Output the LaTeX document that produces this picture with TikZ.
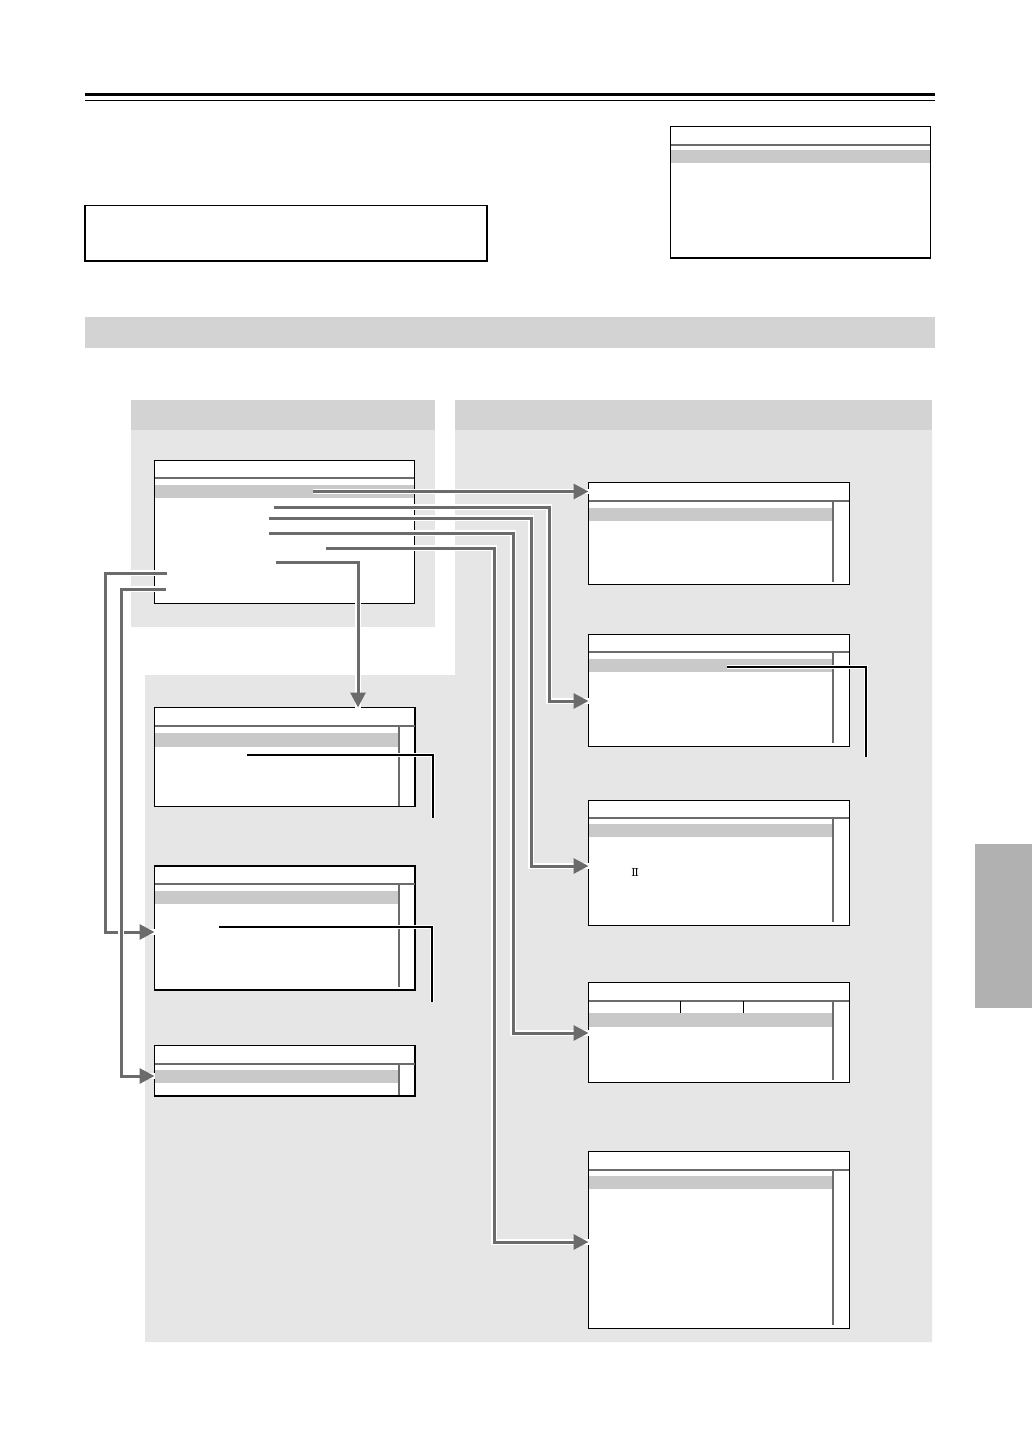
\documentclass[tikz,border=0pt]{standalone}
\usepackage{fontspec}
\usepackage{tikz}
\usetikzlibrary{arrows.meta,fit}
\newfontfamily\romfont{DejaVu Serif}

\definecolor{bandgray}{HTML}{D3D3D3}
\definecolor{panelgray}{HTML}{E6E6E6}
\definecolor{hlgray}{HTML}{C9C9C9}
\definecolor{linegray}{HTML}{6B6B6B}
\definecolor{tabgray}{HTML}{B1B1B1}

\tikzset{
  screen/.style={draw=black, fill=white, line width=1.2pt, inner sep=0pt, outer sep=0pt},
  hl/.style={fill=hlgray},
  sepline/.style={draw=linegray, line width=2pt},
  scroll/.style={draw=linegray, line width=2.2pt},
  conn/.style={draw=linegray, line width=3pt, -{Triangle[length=15pt,width=15pt]},
    preaction={draw=white, line width=5.5pt, -}},
  leader/.style={draw=black, line width=1.3pt, preaction={draw=white, line width=4pt}}
}

\begin{document}
\begin{tikzpicture}[x=1pt,y=-1pt]
	\fill[white] (0,0) rectangle (1032,1456);
	\useasboundingbox (0,0) rectangle (1032,1456);
	% page heading rules
	\draw[line width=3.3pt] (85,94.5) -- (935,94.5);
	\draw[line width=1pt] (85,100.5) -- (935,100.5);
	\node[screen, fit={(85,205.5) (487,261)}] (note) {};
	% small screen top right
	\node[screen, fit={(670.5,126.5) (930.5,258)}] (top) {};
	\fill[hl] (671.1,150) rectangle (929.9,162.7);
	\draw[sepline] (671,145) -- (930,145);
	% section band and panels
	\fill[bandgray] (85,317) rectangle (935,348);
	\fill[bandgray] (131,400) rectangle (435,430);
	\fill[panelgray] (131,430) rectangle (435,627);
	\fill[bandgray] (455,400) rectangle (932,430);
	\fill[panelgray] (455,430) -- (932,430) -- (932,1342) -- (145,1342) -- (145,675) -- (455,675) -- cycle;
	\fill[tabgray] (975,844) rectangle (1032,1008);

	% main menu
	\node[screen, fit={(154.5,460.5) (414.5,603.5)}] (menu) {};
	\fill[hl] (155.1,485) rectangle (413.9,497.7);
	\draw[sepline] (155,477.7) -- (414,477.7);

	% left screens
	\node[screen, fit={(154.5,707.5) (415,806.5)}] (l1) {};
	\fill[hl] (155.1,733.3) rectangle (398,746.7);
	\draw[sepline] (155,725.7) -- (415,725.7);
	\draw[scroll] (399.3,725.7) -- (399.3,806);
	\node[screen, fit={(154.5,866) (415,990)}] (l2) {};
	\fill[hl] (155.1,891) rectangle (398,903.7);
	\draw[sepline] (155,884) -- (415,884);
	\draw[scroll] (399.3,884) -- (399.3,986.7);
	\node[screen, fit={(154.5,1045.5) (415,1096)}] (l3) {};
	\fill[hl] (155.1,1070) rectangle (398,1082.7);
	\draw[sepline] (155,1063.7) -- (415,1063.7);
	\draw[scroll] (399.3,1063.7) -- (399.3,1095);

	% right screens
	\node[screen, fit={(588.5,482.5) (849.5,584.5)}] (r1) {};
	\fill[hl] (589.1,507.7) rectangle (832,521);
	\draw[sepline] (589,501) -- (849,501);
	\draw[scroll] (833.3,501) -- (833.3,581.7);
	\node[screen, fit={(588.5,634.5) (849.5,746.5)}] (r2) {};
	\fill[hl] (589.1,659) rectangle (832,671.7);
	\draw[sepline] (589,652) -- (849,652);
	\draw[scroll] (833.3,652) -- (833.3,743);
	\node[screen, fit={(588.5,800.5) (849.5,925.5)}] (r3) {};
	\fill[hl] (589.1,824) rectangle (832,836.7);
	\draw[sepline] (589,818) -- (849,818);
	\draw[scroll] (833.3,818) -- (833.3,921.7);
	\node[font=\romfont\fontsize{11}{11}\selectfont, inner sep=0pt] (two) at (635,872.7) {Ⅱ};
	\node[screen, fit={(588.5,982.5) (849.5,1082.5)}] (r4) {};
	\fill[hl] (589.1,1013.3) rectangle (832,1026.7);
	\draw[sepline] (589,1000.7) -- (849,1000.7);
	\draw[line width=1pt] (680.3,1001) -- (680.3,1012.7) (743.3,1001) -- (743.3,1012.7);
	\draw[scroll] (833.3,1000.7) -- (833.3,1080);
	\node[screen, fit={(588.5,1151.5) (849.5,1328.5)}] (r5) {};
	\fill[hl] (589.1,1176) rectangle (832,1189);
	\draw[sepline] (589,1170) -- (849,1170);
	\draw[scroll] (833.3,1170) -- (833.3,1325);

	% leaders
	\draw[leader] (247,755) -- (433,755) -- (433,818);
	\draw[leader] (219,927) -- (432,927) -- (432,1002);
	\draw[leader] (727,667) -- (866,667) -- (866,757);

	% connectors from the main menu
	\coordinate (a1) at (313,491.5);
	\coordinate (a2) at (274,507); \coordinate (b2) at (549,701);
	\coordinate (a3) at (269,518); \coordinate (b3) at (531,866);
	\coordinate (a4) at (269,533); \coordinate (b4) at (513,1033);
	\coordinate (a5) at (326,548); \coordinate (b5) at (494,1242);
	\coordinate (a6) at (276,562); \coordinate (b6) at (358,562);
	\coordinate (a7) at (167,573); \coordinate (b7) at (105,932);
	\coordinate (a8) at (166,589); \coordinate (b8) at (121,1076);
	\draw[conn] (a1) -- (r1.west |- a1);
	\draw[conn] (a2) -| (b2) -- (r2.west |- b2);
	\draw[conn] (a3) -| (b3) -- (r3.west |- b3);
	\draw[conn] (a4) -| (b4) -- (r4.west |- b4);
	\draw[conn] (a5) -| (b5) -- (r5.west |- b5);
	\draw[conn] (a6) -- (b6) -- (b6 |- l1.north);
	\draw[conn] (a7) -| (b7) -- (l2.west |- b7);
	\draw[conn] (a8) -| (b8) -- (l3.west |- b8);
\end{tikzpicture}
\end{document}
